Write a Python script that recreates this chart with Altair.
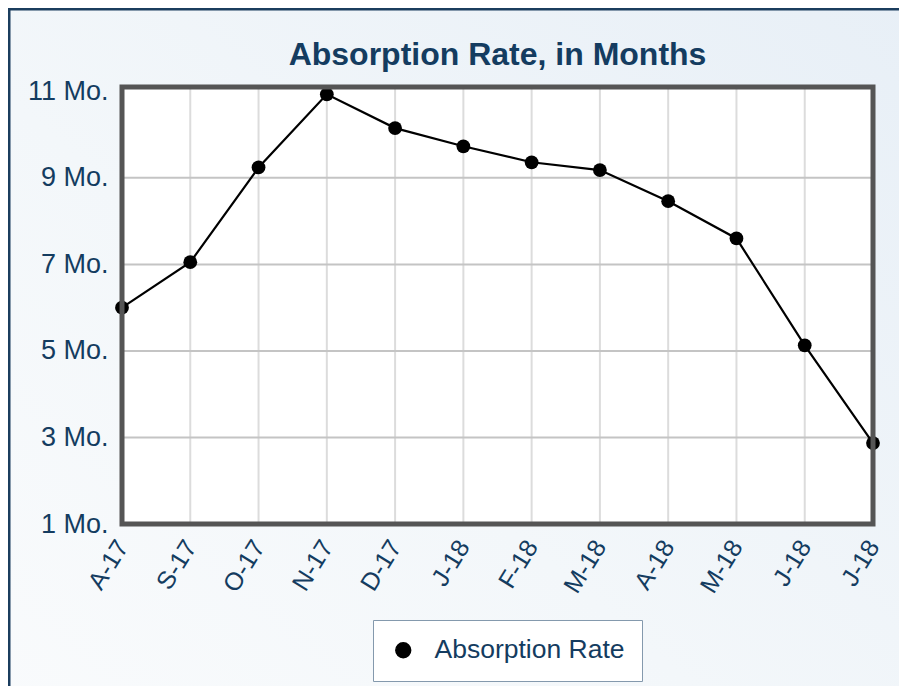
import json
import altair as alt
import pandas as pd

# ---- data ----
month_labels = ["A-17", "S-17", "O-17", "N-17", "D-17", "J-18",
                "F-18", "M-18", "A-18", "M-18", "J-18", "J-18"]
absorption = [6.0, 7.05, 9.24, 10.93, 10.15, 9.73, 9.36, 9.18, 8.46, 7.60, 5.13, 2.87]
y_ticks = [1, 3, 5, 7, 9, 11]
h_grid = [3, 5, 7, 9]
series_name = "Absorption Rate"

df = pd.DataFrame({"idx": list(range(len(month_labels))),
                   "label": month_labels,
                   "value": absorption})
grid_df = pd.DataFrame({"g": h_grid})

NAVY = "#143c60"
W, H = 751, 437
PAD_L, PAD_T, PAD_R, PAD_B = 114, 79, 26, 162

xscale = alt.Scale(domain=[0, len(month_labels) - 1], nice=False, zero=False)
yscale = alt.Scale(domain=[1, 11.1], nice=False, zero=False)

label_expr = json.dumps(month_labels) + "[datum.value]"

x_axis = alt.Axis(values=list(range(len(month_labels))), labelExpr=label_expr,
                  labelAngle=302, labelFontSize=25, labelColor=NAVY,
                  labelFont="Liberation Sans", labelPadding=18,
                  ticks=False, domain=False, grid=False, title=None, zindex=1)
y_axis = alt.Axis(values=y_ticks, labelExpr="datum.value + ' Mo.'",
                  labelFontSize=27, labelColor=NAVY, labelFont="Liberation Sans",
                  labelPadding=14, ticks=False, domain=False, grid=False,
                  title=None, zindex=1)

# decorative page background with frame
bg = alt.Chart(alt.Data(values=[{}])).mark_rect(
    fill=alt.Gradient(gradient="linear", x1=1, y1=0, x2=0, y2=1,
                      stops=[alt.GradientStop(color="#e6eef6", offset=0),
                             alt.GradientStop(color="#f3f7fa", offset=0.55),
                             alt.GradientStop(color="#fbfcfd", offset=1)]),
    stroke="#1b3d5e", strokeWidth=3
).encode(x=alt.value(-PAD_L + 1), x2=alt.value(W + 200),
         y=alt.value(-PAD_T + 1), y2=alt.value(H + 400))

# white plot area
plot_bg = alt.Chart(alt.Data(values=[{}])).mark_rect(fill="white").encode(
    x=alt.datum(0, scale=xscale), x2=alt.datum(len(month_labels) - 1),
    y=alt.datum(1, scale=yscale), y2=alt.datum(11.1))

vgrid = alt.Chart(df).mark_rule(color="#dcdcdc", strokeWidth=2).encode(
    x=alt.X("idx:Q", scale=xscale, axis=x_axis))
hgrid = alt.Chart(grid_df).mark_rule(color="#c4c4c4", strokeWidth=2).encode(
    y=alt.Y("g:Q", scale=yscale, axis=y_axis))

color = alt.Color("s:N", scale=alt.Scale(domain=[series_name], range=["black"]),
                  legend=alt.Legend(title=None, orient="none", legendX=251, legendY=533,
                                    symbolType="circle", symbolSize=220,
                                    symbolFillColor="black", symbolStrokeColor="black",
                                    labelFontSize=26.5, labelColor=NAVY,
                                    labelFont="Liberation Sans", labelOffset=18,
                                    labelLimit=400,
                                    padding=17, fillColor="white",
                                    strokeColor="#8499ad"))

base = alt.Chart(df).transform_calculate(s=f"'{series_name}'")
line = base.mark_line(strokeWidth=2.2).encode(
    x=alt.X("idx:Q", scale=xscale, axis=x_axis),
    y=alt.Y("value:Q", scale=yscale, axis=y_axis),
    color=color)
pts = base.mark_point(filled=True, size=190, opacity=1).encode(
    x=alt.X("idx:Q", scale=xscale, axis=x_axis),
    y=alt.Y("value:Q", scale=yscale, axis=y_axis),
    color=color)

border = alt.Chart(alt.Data(values=[{}])).mark_rect(
    fillOpacity=0, stroke="#555555", strokeWidth=5).encode(
    x=alt.datum(0, scale=xscale), x2=alt.datum(len(month_labels) - 1),
    y=alt.datum(1, scale=yscale), y2=alt.datum(11.1))

chart = alt.layer(bg, plot_bg, vgrid, hgrid, line, pts, border).properties(
    width=W, height=H,
    title=alt.Title("Absorption Rate, in Months", fontSize=32, font="Liberation Sans",
                    fontWeight="bold", color=NAVY, anchor="middle", offset=0,
                    frame="group", dy=64),
    autosize=alt.AutoSizeParams(type="none"),
    padding={"left": PAD_L, "top": PAD_T, "right": PAD_R, "bottom": PAD_B},
).configure_view(stroke=None).configure_legend(strokeWidth=2).configure(background="white")

chart.save("out.html", embed_options={"renderer": "svg", "actions": False})
